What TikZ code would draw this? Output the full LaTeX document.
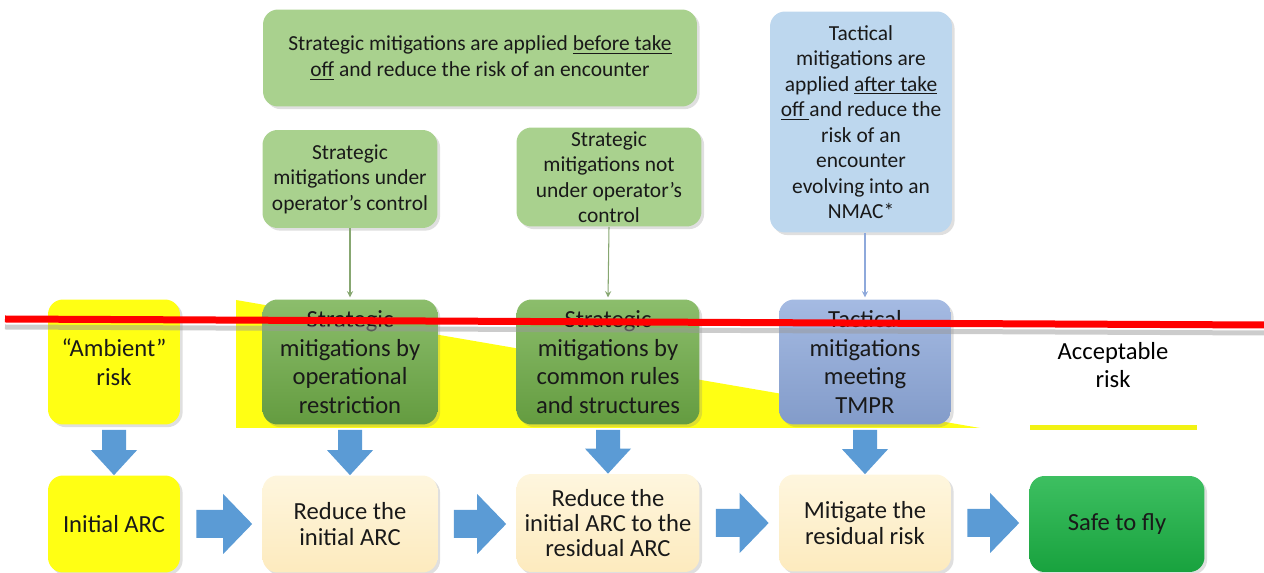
\documentclass[tikz,border=0pt]{standalone}
\usepackage{fontspec}
\setmainfont{Carlito}
\usetikzlibrary{calc,shadows}
\definecolor{notegreen}{HTML}{A9D18E}
\definecolor{noteblue}{HTML}{BDD7EE}
\definecolor{midgreen}{HTML}{6FAD47}
\definecolor{midblue}{HTML}{8EA9DB}
\definecolor{riskyellow}{HTML}{FFFF14}
\definecolor{cream}{HTML}{FDF0C8}
\definecolor{safegreen}{HTML}{1BB445}
\definecolor{arrowblue}{HTML}{5B9BD5}
% block arrows between two boxes
\newcommand{\rightblock}[2]{%
  \coordinate (s) at ($(#1.east)+(16,0)$);
  \coordinate (t) at ($(#2.west |- #1.east)+(-10,0)$);
  \fill[arrowblue] ($(s)+(0,-14)$) -- ($(t)+(-29,-14)$) -- ($(t)+(-29,-30)$) -- (t)
    -- ($(t)+(-29,30)$) -- ($(t)+(-29,14)$) -- ($(s)+(0,14)$) -- cycle;}
\newcommand{\downblock}[2]{%
  \coordinate (s) at ($(#1.south)+(0,5)$);
  \coordinate (t) at (#1.south |- #2.north);
  \fill[arrowblue] ($(s)+(-12,0)$) -- ($(t)+(-12,-25)$) -- ($(t)+(-23,-25)$) -- (t)
    -- ($(t)+(23,-25)$) -- ($(t)+(12,-25)$) -- ($(s)+(12,0)$) -- cycle;}
\begin{document}
\begin{tikzpicture}[x=0.02cm, y=-0.02cm, >=stealth,
  box/.style={rounded corners=0.3cm, align=center, inner sep=2pt, text=black!90,
    drop shadow={opacity=0.25, shadow xshift=1.5pt, shadow yshift=-1.5pt}},
  note/.style={box, font=\fontsize{12.2}{14.5}\selectfont},
  measure/.style={box, font=\fontsize{14}{16.2}\selectfont, minimum height=2.5cm},
  stage/.style={box, font=\fontsize{14}{14.4}\selectfont, minimum height=1.94cm},
  thinarrow/.style={->, semithick, shorten >=1pt}]
\useasboundingbox (0,0) rectangle (1264,573);

% 1. notes on top
\node[note, fill=notegreen, minimum width=8.68cm, minimum height=1.94cm] (stratnote) at (480,58)
  {Strategic mitigations are applied \underline{before take}\\\underline{off} and reduce the risk of an encounter};
\node[note, fill=notegreen, minimum width=3.5cm, minimum height=1.96cm] (opnote) at (350,179)
  {Strategic\\mitigations under\\operator’s control};
\node[note, fill=notegreen, minimum width=3.7cm, minimum height=1.98cm] (rulenote) at (609,177)
  {Strategic\\mitigations not\\under operator’s\\control};
\node[note, fill=noteblue, minimum width=3.64cm, minimum height=4.42cm] (tactnote) at (861,122)
  {Tactical\\mitigations are\\applied \underline{after take}\\\underline{off\ }and reduce the\\risk of an\\encounter\\evolving into an\\NMAC*};

% 2. risk triangle and mitigations
\fill[riskyellow] (236,300) -- (980,428) -- (236,428) -- cycle;
\node[measure, fill=riskyellow, minimum width=2.64cm] (ambient) at (114,362)
  {“Ambient”\\risk};
\node[measure, top color=midgreen!80!white, bottom color=midgreen!90!black, minimum width=3.5cm] (oprestr) at (350,362)
  {Strategic\\mitigations by\\operational\\restriction};
\node[measure, top color=midgreen!80!white, bottom color=midgreen!90!black, minimum width=3.66cm] (rules) at (608,362)
  {Strategic\\mitigations by\\common rules\\and structures};
\node[measure, top color=midblue!80!white, bottom color=midblue!92!black, minimum width=3.44cm] (tmpr) at (865,362)
  {Tactical\\mitigations\\meeting\\TMPR};
\node[font=\fontsize{14}{16.2}\selectfont, align=center] (accept) at (1113,365) {Acceptable\\risk};
\draw[riskyellow!95!black, line width=0.1cm] (1030,428) -- (1197,428);

\draw[thinarrow, notegreen!80!black] (opnote.south) -- (oprestr.north);
\draw[thinarrow, notegreen!80!black] (rulenote.south) -- (rules.north);
\draw[thinarrow, midblue] (tmpr.north |- tactnote.south) -- (tmpr.north);

% 3. process row
\node[stage, fill=riskyellow, minimum width=2.64cm] (initial) at (114,524) {Initial ARC};
\node[stage, top color=cream!60!white, bottom color=cream!95!orange, minimum width=3.5cm] (reduce) at (350,524)
  {Reduce the\\initial ARC};
\node[stage, top color=cream!60!white, bottom color=cream!95!orange, minimum width=3.66cm, minimum height=1.96cm] (residual) at (608,523)
  {Reduce the\\initial ARC to the\\residual ARC};
\node[stage, top color=cream!60!white, bottom color=cream!95!orange, minimum width=3.44cm] (mitigate) at (865,523)
  {Mitigate the\\residual risk};
\node[stage, top color=safegreen!85!white, bottom color=safegreen!90!black, minimum width=3.5cm, minimum height=1.92cm] (safe) at (1117,524)
  {Safe to fly};

\downblock{ambient}{initial}
\downblock{oprestr}{reduce}
\downblock{rules}{residual}
\downblock{tmpr}{mitigate}
\rightblock{initial}{reduce}
\rightblock{reduce}{residual}
\rightblock{residual}{mitigate}
\rightblock{mitigate}{safe}

% 4. red line over all
\draw[black!40, opacity=0.5, line width=0.1cm] (5,327) -- (1264,333);
\draw[red, line width=0.14cm] (5,319) -- (1264,325);
\end{tikzpicture}
\end{document}
